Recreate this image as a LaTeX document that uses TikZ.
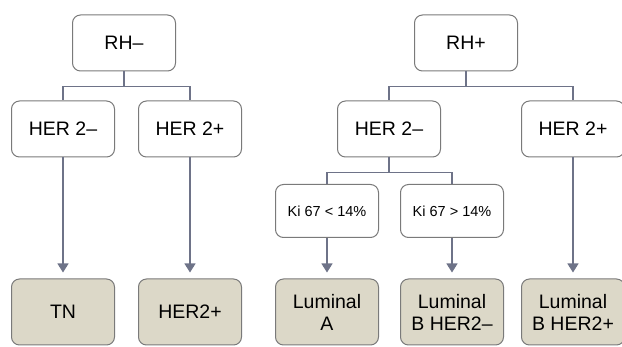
\documentclass[tikz,border=0pt]{standalone}
\usepackage{fontspec}
\setmainfont{Liberation Sans}
\usepackage{tikz}
\usetikzlibrary{positioning,arrows.meta}

\definecolor{boxline}{HTML}{7A7A7A}
\definecolor{linkline}{HTML}{6E7388}
\definecolor{leaffill}{HTML}{DCD8C8}

\begin{document}
\begin{tikzpicture}[
  x=1pt, y=-1pt,
  box/.style={draw=boxline, line width=1pt, rounded corners=8pt, fill=white, minimum width=103pt, minimum height=56pt, align=center, inner sep=2pt, font=\fontsize{19.5}{22}\selectfont},
  kibox/.style={box, minimum height=53pt, font=\fontsize{14.5}{17}\selectfont},
  leaf/.style={box, fill=leaffill, minimum height=66pt},
  link/.style={draw=linkline, line width=1.1pt},
  arr/.style={link, -{Triangle[width=11pt,length=9pt]}, shorten >=6pt}
]
\useasboundingbox (0,0) rectangle (622,347);

% top level
\node[box] (rhneg) at (124,43) {RH--};
\node[box] (rhpos) at (466,43) {RH+};

% HER 2 level
\node[box] (hnegL) at (63,129) {HER 2--};
\node[box] (hposL) at (190,129) {HER 2+};
\node[box] (hnegR) at (389,129) {HER 2--};
\node[box] (hposR) at (573,129) {HER 2+};

% Ki 67 level
\node[kibox] (kilow) at (327,211) {Ki 67 < 14\%};
\node[kibox] (kihigh) at (452,211) {Ki 67 > 14\%};

% leaves
\node[leaf] (tn) at (63,312) {TN};
\node[leaf] (her2) at (190,312) {HER2+};
\node[leaf] (luma) at (327,312) {Luminal\\A};
\node[leaf] (lumbneg) at (452,312) {Luminal\\B HER2--};
\node[leaf] (lumbpos) at (573,312) {Luminal\\B HER2+};

% elbows
\draw[link] (rhneg.south) -- ++(0,15) -| (hnegL.north);
\draw[link] (rhneg.south) -- ++(0,15) -| (hposL.north);
\draw[link] (rhpos.south) -- ++(0,15) -| (hnegR.north);
\draw[link] (rhpos.south) -- ++(0,15) -| (hposR.north);
\draw[link] (hnegR.south) -- ++(0,15) -| (kilow.north);
\draw[link] (hnegR.south) -- ++(0,15) -| (kihigh.north);

% arrows to leaves
\draw[arr] (hnegL) -- (tn);
\draw[arr] (hposL) -- (her2);
\draw[arr] (kilow) -- (luma);
\draw[arr] (kihigh) -- (lumbneg);
\draw[arr] (hposR) -- (lumbpos);
\end{tikzpicture}
\end{document}
